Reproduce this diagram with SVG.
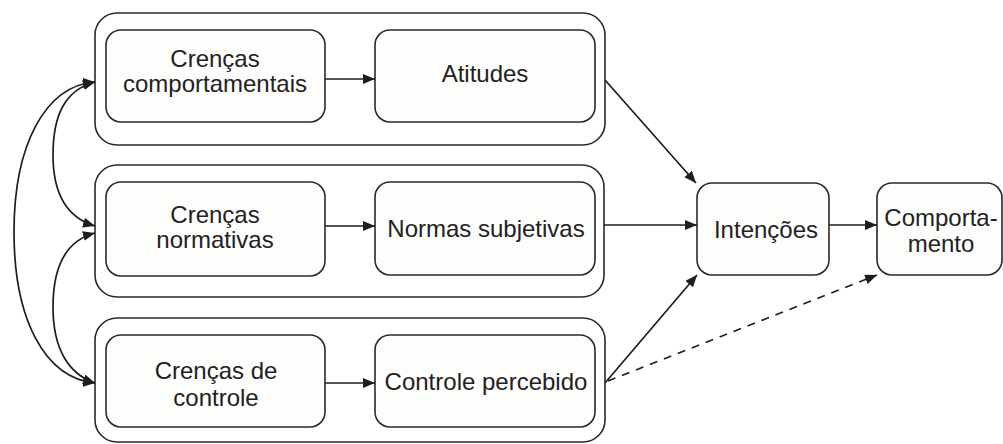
<svg xmlns="http://www.w3.org/2000/svg" width="1003" height="444" viewBox="0 0 1003 444">
  <style>
    .outer { fill: #ffffff; stroke: #2a2a2a; stroke-width: 1.6; }
    .inner { fill: #fdfdfb; stroke: #2a2a2a; stroke-width: 1.6; }
    .lbl { font-family: "Liberation Sans", Arial, sans-serif; font-size: 24px; fill: #222; text-anchor: middle; }
    .conn { fill: none; stroke: #1e1e1e; stroke-width: 1.7; }
    .dash { stroke-dasharray: 8 7; }
  </style>
  <defs>
    <marker id="ah" markerUnits="userSpaceOnUse" markerWidth="12" markerHeight="10" refX="12" refY="5" orient="auto-start-reverse">
      <path d="M0,0 L12,5 L0,10 z" fill="#1e1e1e"/>
    </marker>
  </defs>
  <rect width="1003" height="444" fill="#ffffff"/>

  <g id="grupo-atitudes">
    <rect class="outer" x="95" y="13" width="510" height="132" rx="22"/>
  </g>
  <g id="grupo-normas">
    <rect class="outer" x="95" y="165" width="509" height="132" rx="22"/>
  </g>
  <g id="grupo-controle">
    <rect class="outer" x="95" y="318" width="510" height="124" rx="22"/>
  </g>

  <g id="crencas-comportamentais">
    <rect class="inner" x="106" y="30" width="219" height="92" rx="15"/>
    <text class="lbl" x="215" y="67">Crenças</text>
    <text class="lbl" x="215" y="92">comportamentais</text>
  </g>
  <g id="atitudes">
    <rect class="inner" x="375" y="30" width="220" height="92" rx="15"/>
    <text class="lbl" x="485" y="82">Atitudes</text>
  </g>
  <g id="crencas-normativas">
    <rect class="inner" x="106" y="182" width="219" height="94" rx="15"/>
    <text class="lbl" x="215" y="223">Crenças</text>
    <text class="lbl" x="215" y="248">normativas</text>
  </g>
  <g id="normas-subjetivas">
    <rect class="inner" x="375" y="182" width="220" height="93" rx="15"/>
    <text class="lbl" x="486" y="237">Normas subjetivas</text>
  </g>
  <g id="crencas-controle">
    <rect class="inner" x="106" y="335" width="219" height="92" rx="15"/>
    <text class="lbl" x="216" y="379">Crenças de</text>
    <text class="lbl" x="216" y="406">controle</text>
  </g>
  <g id="controle-percebido">
    <rect class="inner" x="375" y="335" width="220" height="92" rx="15"/>
    <text class="lbl" x="486" y="390">Controle percebido</text>
  </g>
  <g id="intencoes">
    <rect class="inner" x="697" y="183" width="132" height="92" rx="15"/>
    <text class="lbl" x="766" y="238">Intenções</text>
  </g>
  <g id="comportamento">
    <rect class="inner" x="877" y="183" width="125" height="92" rx="15"/>
    <text class="lbl" x="941" y="226">Comporta-</text>
    <text class="lbl" x="941" y="252">mento</text>
  </g>

  <g id="connectors">
    <line class="conn" x1="325" y1="79" x2="375" y2="79" marker-end="url(#ah)"/>
    <line class="conn" x1="325" y1="226" x2="375" y2="226" marker-end="url(#ah)"/>
    <line class="conn" x1="325" y1="383" x2="375" y2="383" marker-end="url(#ah)"/>
    <line class="conn" x1="605" y1="80" x2="696" y2="183" marker-end="url(#ah)"/>
    <line class="conn" x1="604" y1="225" x2="697" y2="225" marker-end="url(#ah)"/>
    <line class="conn" x1="605" y1="383" x2="697" y2="275" marker-end="url(#ah)"/>
    <line class="conn" x1="829" y1="225" x2="877" y2="225" marker-end="url(#ah)"/>
    <line class="conn dash" x1="608" y1="381" x2="877" y2="275" marker-end="url(#ah)"/>
    <path class="conn" d="M95,82 C65,90 53,115 53,155 C53,195 68,218 95,226" marker-start="url(#ah)" marker-end="url(#ah)"/>
    <path class="conn" d="M95,233 C68,240 53,264 53,307 C53,348 68,374 95,383" marker-start="url(#ah)" marker-end="url(#ah)"/>
    <path class="conn" d="M95,82 C45,86 14,145 14,232 C14,320 45,378 95,383" marker-start="url(#ah)" marker-end="url(#ah)"/>
  </g>
</svg>
